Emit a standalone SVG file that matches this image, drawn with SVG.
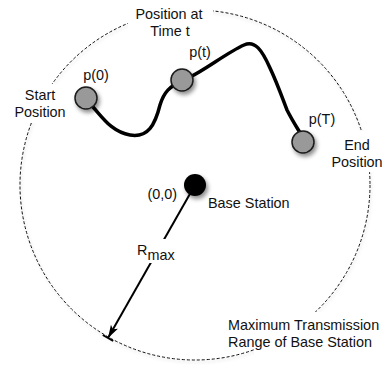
<svg xmlns="http://www.w3.org/2000/svg" width="385" height="365" viewBox="0 0 385 365">
<style>
text{font-family:"Liberation Sans",Arial,sans-serif;font-size:14.4px;fill:#111}
.bg{fill:#fff}
.node{fill:#999;stroke:#1a1a1a;stroke-width:1.5}
</style>
<defs>
<filter id="sh" x="-50%" y="-50%" width="200%" height="200%">
<feDropShadow dx="2" dy="3" stdDeviation="2" flood-color="#000" flood-opacity="0.45"/>
</filter>
<filter id="sh2" x="-10%" y="-10%" width="120%" height="120%">
<feDropShadow dx="1" dy="2" stdDeviation="1.5" flood-color="#000" flood-opacity="0.2"/>
</filter>
<marker id="ah" markerWidth="14" markerHeight="10" refX="13" refY="5" orient="auto" markerUnits="userSpaceOnUse">
<path d="M0,1 L13,5 L0,9 L3,5 Z" fill="#000"/>
</marker>
</defs>
<rect width="385" height="365" fill="#fff"/>
<g id="range">
<circle cx="195" cy="185" r="175" fill="none" stroke="#111" stroke-width="1" stroke-dasharray="3,2" filter="url(#sh2)"/>
</g>
<g id="label-backgrounds">
<rect class="bg" x="128" y="0" width="85" height="42"/>
<rect class="bg" x="8" y="84" width="62" height="39"/>
<rect class="bg" x="335" y="131" width="50" height="41"/>
<rect class="bg" x="254" y="312" width="131" height="50"/>
</g>
<g id="connectors">
<path d="M93,107 C103,118 112,132 130,135 C148,138 155,125 160,105 C164,92 170,86 181,82 M190,77 C205,70 228,52 244,45 C255,40 262,50 270,68 C278,85 283,100 287,110 C292,120 296,126 302,136" fill="none" stroke="#000" stroke-width="3.5" stroke-linecap="round"/>
<line x1="195" y1="185" x2="108" y2="338" stroke="#000" stroke-width="2" marker-end="url(#ah)"/>
<line x1="102.8" y1="335" x2="113.2" y2="341" stroke="#000" stroke-width="2"/>
<rect class="bg" x="134" y="239" width="44" height="24"/>
</g>
<g id="start">
<circle class="node" cx="86" cy="98" r="11" filter="url(#sh)"/>
<text x="96" y="80" text-anchor="middle">p(0)</text>
<text x="40" y="100" text-anchor="middle">Start</text>
<text x="40" y="117" text-anchor="middle">Position</text>
</g>
<g id="pt">
<circle class="node" cx="182" cy="80" r="11" filter="url(#sh)"/>
<text x="200" y="57" text-anchor="middle">p(t)</text>
<text x="169" y="19" text-anchor="middle">Position at</text>
<text x="170" y="36" text-anchor="middle">Time t</text>
</g>
<g id="end">
<circle class="node" cx="303" cy="142" r="11" filter="url(#sh)"/>
<text x="322" y="124" text-anchor="middle">p(T)</text>
<text x="357" y="150" text-anchor="middle">End</text>
<text x="357" y="167" text-anchor="middle">Position</text>
</g>
<g id="base">
<circle cx="195" cy="185" r="11" fill="#000" filter="url(#sh)"/>
<text x="177" y="199" text-anchor="end">(0,0)</text>
<text x="208" y="208">Base Station</text>
</g>
<g id="rmax">
<text x="137" y="255">R<tspan dy="5">max</tspan></text>
</g>
<g id="range-label">
<text x="228" y="330">Maximum Transmission</text>
<text x="228" y="347">Range of Base Station</text>
</g>
</svg>
